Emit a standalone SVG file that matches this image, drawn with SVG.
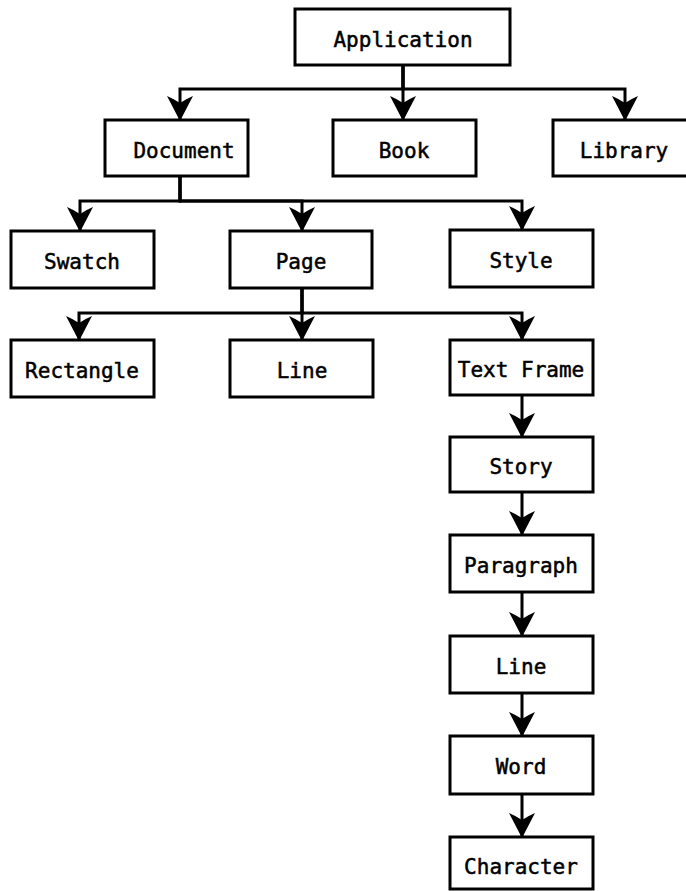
<svg xmlns="http://www.w3.org/2000/svg" width="686" height="891" viewBox="0 0 686 891">
<defs>
<style>
.box{fill:#fff;stroke:#000;stroke-width:3}
.lbl{font-family:"DejaVu Sans Mono","Liberation Mono",monospace;font-size:21px;fill:#000;stroke:#000;stroke-width:0.5;text-anchor:middle}
.con{fill:none;stroke:#000;stroke-width:3;stroke-linejoin:miter;marker-end:url(#ah)}
</style>
<marker id="ah" markerUnits="userSpaceOnUse" viewBox="0 0 25 26" markerWidth="25" markerHeight="26" refX="24" refY="13" orient="auto">
<path d="M25,13 L0,0 Q3,7 7,13 Q3,19 0,26 Z" fill="#000"/>
</marker>
</defs>
<rect width="686" height="891" fill="#fff"/>
<g id="connectors">
<path class="con" d="M403,65 V89 H180 V120"/>
<path class="con" d="M403,65 V120"/>
<path class="con" d="M403,65 V89 H625 V120"/>
<path class="con" d="M180,176 V201 H80 V231"/>
<path class="con" d="M180,176 V201 H302 V231"/>
<path class="con" d="M180,176 V201 H522 V230"/>
<path class="con" d="M302,288 V313 H79 V340"/>
<path class="con" d="M302,288 V340"/>
<path class="con" d="M302,288 V313 H522 V340"/>
<path class="con" d="M522,395 V437"/>
<path class="con" d="M522,492 V535"/>
<path class="con" d="M522,592 V636"/>
<path class="con" d="M522,693 V736"/>
<path class="con" d="M522,794 V837"/>
</g>
<g id="application"><rect class="box" x="295" y="9" width="215" height="56"/><text class="lbl" x="403" y="47">Application</text></g>
<g id="document"><rect class="box" x="105" y="120" width="143" height="56"/><text class="lbl" x="184" y="158">Document</text></g>
<g id="book"><rect class="box" x="333" y="120" width="143" height="56"/><text class="lbl" x="404" y="158">Book</text></g>
<g id="library"><rect class="box" x="553" y="120" width="143" height="56"/><text class="lbl" x="624" y="158">Library</text></g>
<g id="swatch"><rect class="box" x="11" y="231" width="143" height="57"/><text class="lbl" x="82" y="269">Swatch</text></g>
<g id="page"><rect class="box" x="230" y="231" width="142" height="57"/><text class="lbl" x="301" y="269">Page</text></g>
<g id="style"><rect class="box" x="450" y="230" width="143" height="57"/><text class="lbl" x="521" y="268">Style</text></g>
<g id="rectangle"><rect class="box" x="11" y="340" width="143" height="57"/><text class="lbl" x="82" y="378">Rectangle</text></g>
<g id="line1"><rect class="box" x="230" y="340" width="143" height="57"/><text class="lbl" x="302" y="378">Line</text></g>
<g id="textframe"><rect class="box" x="450" y="340" width="143" height="55"/><text class="lbl" x="521" y="377">Text Frame</text></g>
<g id="story"><rect class="box" x="450" y="437" width="143" height="55"/><text class="lbl" x="521" y="474">Story</text></g>
<g id="paragraph"><rect class="box" x="450" y="535" width="143" height="57"/><text class="lbl" x="521" y="573">Paragraph</text></g>
<g id="line2"><rect class="box" x="450" y="636" width="143" height="57"/><text class="lbl" x="521" y="674">Line</text></g>
<g id="word"><rect class="box" x="450" y="736" width="143" height="58"/><text class="lbl" x="521" y="774">Word</text></g>
<g id="character"><rect class="box" x="450" y="837" width="143" height="52"/><text class="lbl" x="521" y="874">Character</text></g>
</svg>
